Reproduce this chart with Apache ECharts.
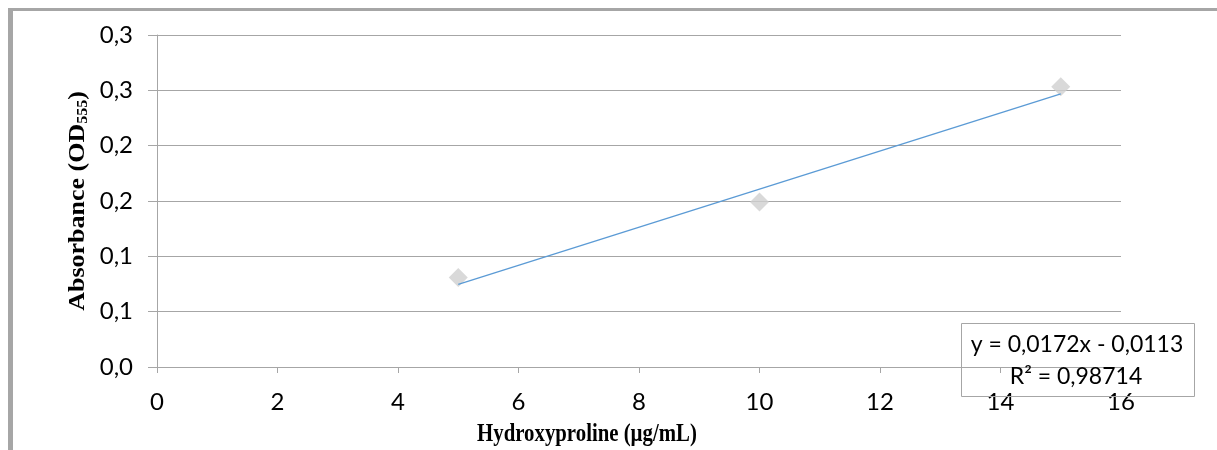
<!DOCTYPE html>
<html>
<head>
<meta charset="utf-8">
<script src="https://cdn.jsdelivr.net/npm/echarts@6/dist/echarts.min.js"></script>
<style>
html,body{margin:0;padding:0;background:#fff;}
#c{width:1217px;height:450px;}
</style>
</head>
<body>
<div id="c"></div>
<script>
// Data
const concentrations = [5, 10, 15];
const absorbance = [0.0809, 0.1492, 0.2532];
const trendX = [5, 15];
const trendY = [0.0747, 0.2467];
const yTickLabels = ['0,0', '0,1', '0,1', '0,2', '0,2', '0,3', '0,3'];
const xTickLabels = ['0', '2', '4', '6', '8', '10', '12', '14', '16'];
const xTitle = 'Hydroxyproline (µg/mL)';
const yTitleMain = 'Absorbance (OD';
const yTitleSub = '555';
const equationText = 'y = 0,0172x - 0,0113';
const r2Text = 'R² = 0,98714';

const tickFont = 'Lato, "Open Sans", sans-serif';
const serif = '"Liberation Serif", "DejaVu Serif", serif';

const chart = echarts.init(document.getElementById('c'));
chart.setOption({
  animation: false,
  backgroundColor: '#fff',
  grid: { left: 157, right: 96, top: 35, bottom: 83 },
  xAxis: {
    type: 'value', min: 0, max: 16, interval: 2,
    axisLine: { show: true, lineStyle: { color: '#a6a6a6', width: 1 } },
    axisTick: { show: true, length: 6, lineStyle: { color: '#a6a6a6' } },
    splitLine: { show: false },
    axisLabel: {
      margin: 23, fontSize: 24, color: '#000', fontFamily: tickFont,
      formatter: (v) => xTickLabels[Math.round(v / 2)]
    }
  },
  yAxis: {
    type: 'value', min: 0, max: 0.3, interval: 0.05,
    axisLine: { show: true, lineStyle: { color: '#a6a6a6', width: 1 } },
    axisTick: { show: true, length: 9, lineStyle: { color: '#a6a6a6' } },
    splitLine: { show: true, lineStyle: { color: '#a6a6a6', width: 1 } },
    axisLabel: {
      margin: 24, fontSize: 24, color: '#000', fontFamily: tickFont,
      formatter: (v) => yTickLabels[Math.round(v / 0.05)]
    }
  },
  series: [
    {
      type: 'line',
      data: trendX.map((x, i) => [x, trendY[i]]),
      symbol: 'none',
      lineStyle: { color: '#5b9bd5', width: 1.3 },
      z: 2
    },
    {
      type: 'scatter',
      data: concentrations.map((x, i) => [x, absorbance[i]]),
      symbol: 'diamond',
      symbolSize: 19,
      itemStyle: { color: '#d0d0d0' },
      z: 1
    }
  ],
  graphic: [
    { type: 'rect', shape: { x: 8, y: 8, width: 1209, height: 3 }, style: { fill: '#a6a6a6' }, silent: true },
    { type: 'rect', shape: { x: 8, y: 8, width: 5, height: 442 }, style: { fill: '#a6a6a6' }, silent: true },
    { type: 'text', x: 587, y: 434, scaleX: 0.8, z: 11,
      style: { text: xTitle, fontFamily: serif, fontWeight: 'bold', fontSize: 26, fill: '#000',
               textAlign: 'center', textVerticalAlign: 'middle' } },
    { type: 'text', x: 78, y: 201, rotation: Math.PI / 2, scaleY: 0.85, z: 11,
      style: {
        text: '{b|' + yTitleMain + '}{s|' + yTitleSub + '}{b|)}',
        textAlign: 'center', textVerticalAlign: 'middle',
        rich: {
          b: { fontFamily: serif, fontWeight: 'bold', fontSize: 26, fill: '#000', lineHeight: 30 },
          s: { fontFamily: serif, fontWeight: 'bold', fontSize: 16, fill: '#000', lineHeight: 30, padding: [12, 0, 0, 0] }
        }
      } },
    { type: 'rect', shape: { x: 961.5, y: 323.5, width: 233, height: 73 },
      style: { fill: 'none', stroke: '#a6a6a6', lineWidth: 1 }, silent: true, z: 10 },
    { type: 'text', x: 1077, y: 345, z: 11,
      style: { text: equationText, fontFamily: tickFont, fontSize: 23, fill: '#000', textAlign: 'center', textVerticalAlign: 'middle' } },
    { type: 'text', x: 1076, y: 377, z: 11,
      style: { text: r2Text, fontFamily: tickFont, fontSize: 23, fill: '#000', textAlign: 'center', textVerticalAlign: 'middle' } }
  ]
});
</script>
</body>
</html>
